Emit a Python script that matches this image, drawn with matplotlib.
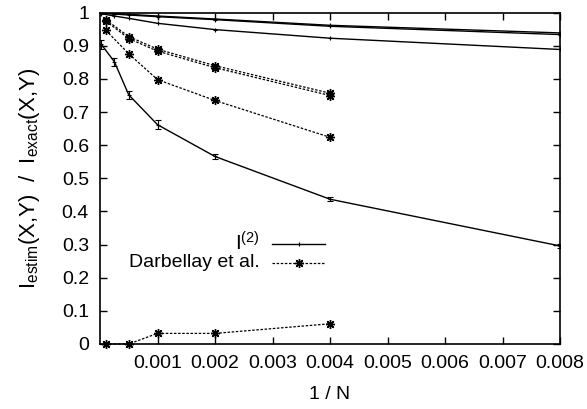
import matplotlib
matplotlib.use("Agg")
import matplotlib.pyplot as plt
from matplotlib.ticker import FuncFormatter

plt.rcParams['font.family'] = ['Liberation Sans', 'DejaVu Sans']
plt.rcParams['mathtext.fontset'] = 'custom'
plt.rcParams['mathtext.rm'] = 'Liberation Sans'
plt.rcParams['mathtext.it'] = 'Liberation Sans'

# 1/N sample sizes for the I^(2) estimator
x_i2 = [0.00002, 0.00025, 0.0005, 0.001, 0.002, 0.004, 0.008]
i2_a = [0.999, 0.997, 0.995, 0.990, 0.981, 0.962, 0.939]
i2_b = [0.998, 0.996, 0.993, 0.988, 0.979, 0.959, 0.934]
i2_c = [0.997, 0.990, 0.983, 0.968, 0.949, 0.923, 0.889]
i2_d = [0.905, 0.852, 0.752, 0.662, 0.566, 0.437, 0.296]
i2_d_err = [0.014, 0.012, 0.012, 0.014, 0.008, 0.006, 0.005]

# 1/N sample sizes for the Darbellay et al. estimator
x_darb = [0.0001, 0.0005, 0.001, 0.002, 0.004]
darb_a = [0.979, 0.928, 0.890, 0.840, 0.757]
darb_b = [0.975, 0.922, 0.884, 0.834, 0.750]
darb_c = [0.947, 0.876, 0.798, 0.735, 0.624]
darb_d = [0.000, 0.000, 0.032, 0.032, 0.061]

x_ticks = [0.001, 0.002, 0.003, 0.004, 0.005, 0.006, 0.007, 0.008]
y_ticks = [0, 0.1, 0.2, 0.3, 0.4, 0.5, 0.6, 0.7, 0.8, 0.9, 1.0]

fig = plt.figure(figsize=(5.87, 4.09), dpi=100)
ax = fig.add_axes([100 / 587, 1 - 344 / 409, 460 / 587, (344 - 12.7) / 409])

solid_kw = dict(color='black', lw=1.0, marker='+', ms=3.5, mew=0.8)
for ys in (i2_a, i2_b, i2_c):
    ax.plot(x_i2, ys, **solid_kw)
ax.errorbar(x_i2, i2_d, yerr=i2_d_err, color='black', lw=1.0, marker='+',
            ms=3.5, mew=0.8, elinewidth=0.8, capsize=2.5, capthick=0.8)

star = (8, 2, 0)
dash_kw = dict(color='black', lw=0.9, ls=(0, (2.0, 1.3)), marker=star,
               ms=6.5, mew=1.0)
for ys in (darb_a, darb_b, darb_c, darb_d):
    ax.plot(x_darb, ys, clip_on=False, **dash_kw)

ax.set_xlim(0, 0.008)
ax.set_ylim(0, 1)
ax.set_xticks(x_ticks)
ax.set_yticks(y_ticks)
ax.xaxis.set_major_formatter(FuncFormatter(lambda v, p: f"{v:.3f}"))
ax.yaxis.set_major_formatter(FuncFormatter(lambda v, p: f"{v:g}"))
ax.tick_params(direction='in', length=5, width=1.0, top=True, right=True,
               labelsize=14, pad=8)
for s in ax.spines.values():
    s.set_linewidth(1.2)

ax.set_xlabel('1 / N', fontsize=14, labelpad=10)
ax.set_ylabel(r'$\mathregular{I_{estim}(X{,}Y)\ \ /\ \ I_{exact}(X{,}Y)}$',
              fontsize=16, labelpad=14)

# key, text right-aligned with the line sample on its right
tr = ax.transAxes
ax.text(0.348, 0.305, r'$\mathregular{I^{(2)}}$', transform=tr, ha='right',
        va='center', fontsize=15)
ax.plot([0.374, 0.489], [0.302, 0.302], transform=tr, color='black', lw=1.0)
ax.plot([0.432], [0.302], transform=tr, color='black', marker='+', ms=3.5,
        mew=0.8)
ax.text(0.348, 0.245, 'Darbellay et al.', transform=tr, ha='right',
        va='center', fontsize=14)
ax.plot([0.374, 0.489], [0.245, 0.245], transform=tr, color='black', lw=0.9,
        ls=(0, (2.0, 1.3)))
ax.plot([0.432], [0.245], transform=tr, color='black', marker=star, ms=6.5,
        mew=1.0)

fig.savefig('out.png', dpi=100)
